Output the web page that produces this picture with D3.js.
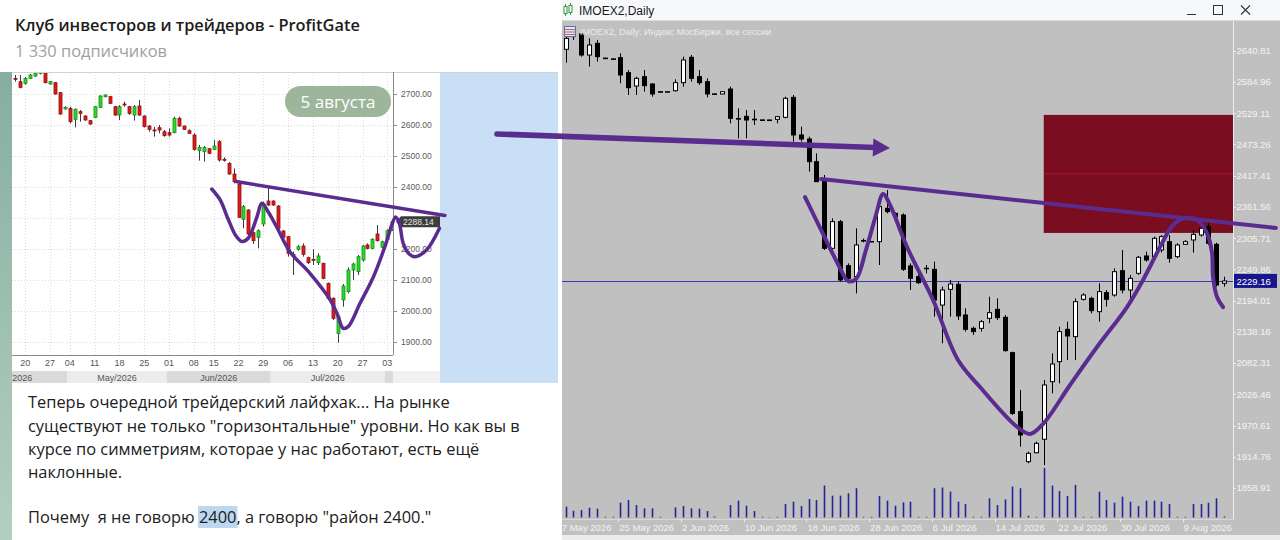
<!DOCTYPE html>
<html>
<head>
<meta charset="utf-8">
<script src="https://cdn.jsdelivr.net/npm/d3@7"></script>
<style>
  html, body { margin: 0; padding: 0; background: #ffffff; }
  svg { display: block; }
</style>
</head>
<body>
<svg id="chart" width="1280" height="540"></svg>
<script>
// ---------------- Data ----------------

// Telegram post (left side)
const channelTitle = "Клуб инвесторов и трейдеров - ProfitGate";
const channelSubs = "1 330 подписчиков";
const postDate = "5 августа";
const postLines = [
  "Теперь очередной трейдерский лайфхак... На рынке",
  "существуют не только \"горизонтальные\" уровни. Но как вы в",
  "курсе по симметриям, которае у нас работают, есть ещё",
  "наклонные."
];
const postLastLine = ["Почему  я не говорю ", "2400", ", а говорю \"район 2400.\""];

// Small daily chart in the post: [open, high, low, close], 16 Apr – 4 Aug 2026 (trading days)
const leftCandles = [
  [2750.5, 2761.3, 2739.8, 2750.0], [2739.8, 2761.3, 2718.3, 2721.5], [2734.4, 2755.0, 2730.0, 2750.5],
  [2750.5, 2765.0, 2748.0, 2761.3], [2758.0, 2770.0, 2755.0, 2766.6], [2766.0, 2776.0, 2763.0, 2772.0],
  [2772.0, 2777.0, 2734.4, 2736.5], [2732.3, 2742.0, 2730.0, 2739.8], [2736.5, 2738.0, 2698.0, 2700.0],
  [2704.3, 2706.0, 2633.0, 2635.5], [2651.7, 2660.0, 2650.0, 2657.1], [2653.7, 2659.1, 2605.4, 2610.7],
  [2618.3, 2653.7, 2592.4, 2650.5], [2643.0, 2648.4, 2610.7, 2637.6], [2629.0, 2631.0, 2614.0, 2616.1],
  [2614.0, 2616.0, 2601.0, 2603.2], [2624.7, 2661.0, 2622.0, 2659.1], [2657.0, 2696.0, 2655.0, 2693.5],
  [2691.4, 2699.0, 2689.0, 2696.8], [2691.4, 2694.0, 2668.0, 2669.9], [2659.1, 2661.0, 2630.0, 2632.2],
  [2632.2, 2664.5, 2616.1, 2659.1], [2667.7, 2675.3, 2659.1, 2667.2], [2659.1, 2661.3, 2632.2, 2637.6],
  [2632.2, 2664.5, 2614.0, 2659.1], [2661.3, 2680.6, 2629.0, 2632.2], [2629.0, 2631.0, 2592.0, 2594.6],
  [2596.7, 2600.0, 2578.5, 2586.0], [2584.0, 2594.6, 2562.3, 2583.8], [2591.4, 2600.0, 2573.1, 2583.8],
  [2578.5, 2583.8, 2562.3, 2565.6], [2575.3, 2589.2, 2562.3, 2567.7], [2575.3, 2626.8, 2573.1, 2621.5],
  [2621.5, 2626.8, 2594.6, 2596.7], [2596.7, 2598.0, 2584.0, 2586.0], [2581.7, 2586.0, 2571.0, 2573.1],
  [2567.7, 2573.1, 2517.2, 2521.5], [2517.2, 2535.5, 2484.9, 2527.9], [2513.9, 2532.2, 2481.7, 2527.9],
  [2523.6, 2525.0, 2506.0, 2508.6], [2521.5, 2551.6, 2519.3, 2532.2], [2546.2, 2551.6, 2481.7, 2487.1],
  [2489.3, 2495.7, 2481.7, 2489.0], [2476.3, 2480.0, 2440.0, 2441.9], [2441.9, 2460.2, 2411.8, 2417.2],
  [2409.7, 2412.0, 2300.0, 2302.1], [2295.7, 2341.9, 2266.7, 2336.6], [2325.8, 2328.0, 2245.2, 2248.4],
  [2252.7, 2255.9, 2216.1, 2226.9], [2237.6, 2263.4, 2202.1, 2259.1], [2280.7, 2352.7, 2272.1, 2347.3],
  [2354.8, 2401.1, 2338.7, 2341.9], [2354.8, 2357.0, 2339.0, 2341.9], [2338.7, 2341.9, 2261.3, 2266.7],
  [2258.0, 2261.3, 2234.4, 2237.6], [2239.8, 2241.9, 2175.3, 2186.0], [2182.8, 2191.4, 2116.1, 2182.6],
  [2198.9, 2212.9, 2194.6, 2207.5], [2209.7, 2218.3, 2175.3, 2182.8], [2172.0, 2175.3, 2151.6, 2155.9],
  [2166.7, 2198.9, 2148.4, 2166.5], [2155.9, 2186.0, 2148.4, 2177.4], [2153.8, 2155.9, 2102.2, 2105.4],
  [2089.2, 2091.4, 2035.5, 2040.9], [2040.9, 2044.1, 1971.0, 1976.3], [1927.9, 1987.1, 1897.8, 1981.7],
  [2035.5, 2087.1, 2014.0, 2080.6], [2062.4, 2140.9, 2057.0, 2132.3], [2132.3, 2155.9, 2100.0, 2151.6],
  [2126.9, 2180.6, 2116.1, 2175.3], [2164.5, 2212.9, 2159.1, 2209.7], [2212.9, 2218.3, 2199.0, 2202.1],
  [2202.1, 2234.4, 2199.0, 2231.2], [2248.4, 2277.4, 2223.7, 2226.9], [2205.4, 2226.9, 2202.1, 2223.7],
  [2231.2, 2263.4, 2226.9, 2259.1], [2262.0, 2292.0, 2258.0, 2288.14]
];
const leftLastPrice = 2288.14;
const leftPriceTicks = [1900, 2000, 2100, 2200, 2300, 2400, 2500, 2600, 2700];
// Monday labels, keyed by candle number
const leftDayTicks = [
  { bar: 2, label: "20" }, { bar: 7, label: "27" }, { bar: 11, label: "04" }, { bar: 16, label: "11" },
  { bar: 21, label: "18" }, { bar: 26, label: "25" }, { bar: 31, label: "01" }, { bar: 36, label: "08" },
  { bar: 40, label: "15" }, { bar: 45, label: "22" }, { bar: 50, label: "29" }, { bar: 55, label: "06" },
  { bar: 60, label: "13" }, { bar: 65, label: "20" }, { bar: 70, label: "27" }, { bar: 75, label: "03" }
];
const leftMonths = [
  { label: "Apr/2026", from: -11, to: 10.5 }, { label: "May/2026", from: 10.5, to: 30.5 },
  { label: "Jun/2026", from: 30.5, to: 51.5 }, { label: "Jul/2026", from: 51.5, to: 74.5 },
  { label: "", from: 74.5, to: 77.5 }
];
// Hand-drawn marks on the small chart: [candle, price]
const leftTrend = [[44.5, 2417.7], [86.6, 2308.1]];
const leftSwing = [
  [39.6, 2393.5], [41.3, 2358.1], [42.9, 2296.8], [44.5, 2241.9], [45.7, 2224.2], [47.0, 2235.5],
  [48.7, 2303.2], [49.7, 2347.4], [51.0, 2319.4], [52.7, 2271.0], [55.4, 2190.3], [59.4, 2121.6],
  [63.5, 2035.5], [64.9, 1990.3], [66.1, 1944.2], [67.1, 1949.4], [69.5, 2024.8], [72.2, 2110.6],
  [74.5, 2207.4], [75.9, 2277.4], [76.65, 2303.2], [77.4, 2283.9], [78.2, 2218.4], [79.4, 2183.9],
  [80.6, 2175.2], [82.9, 2196.8], [85.5, 2266.8]
];

// IMOEX2 daily (right side): [open, high, low, close]
const rightCandles = [
  [2643.3, 2668.9, 2619.4, 2662.9], [2666.0, 2675.0, 2660.0, 2669.0], [2670.7, 2671.9, 2630.1, 2633.1],
  [2633.1, 2662.9, 2612.3, 2651.0], [2654.0, 2659.9, 2621.2, 2630.1], [2627.6, 2628.2, 2626.8, 2627.2],
  [2626.2, 2626.8, 2625.5, 2626.0], [2628.4, 2636.1, 2582.5, 2597.4], [2601.5, 2606.3, 2561.6, 2574.7],
  [2577.7, 2594.4, 2561.6, 2591.4], [2594.4, 2606.3, 2567.6, 2578.3], [2581.3, 2582.5, 2558.6, 2563.4],
  [2567.6, 2568.0, 2567.0, 2567.4], [2567.4, 2568.0, 2567.0, 2567.6], [2569.3, 2589.6, 2567.6, 2583.7],
  [2583.7, 2630.1, 2576.5, 2624.2], [2629.0, 2633.1, 2585.4, 2591.4], [2594.4, 2606.3, 2579.5, 2583.7],
  [2585.4, 2591.4, 2557.4, 2563.4], [2563.6, 2564.0, 2563.0, 2563.4], [2563.4, 2568.0, 2563.0, 2567.6],
  [2572.3, 2576.5, 2510.9, 2519.9], [2519.5, 2537.8, 2484.1, 2519.3], [2523.5, 2534.8, 2484.1, 2516.9],
  [2518.3, 2534.8, 2508.0, 2518.1], [2517.1, 2517.5, 2516.7, 2516.9], [2516.9, 2517.3, 2516.5, 2517.0],
  [2518.1, 2524.1, 2510.9, 2522.9], [2521.7, 2558.6, 2519.9, 2555.6], [2557.4, 2561.6, 2478.2, 2490.1],
  [2490.1, 2505.0, 2478.2, 2482.9], [2482.9, 2487.1, 2424.5, 2442.4], [2442.4, 2457.3, 2406.0, 2406.6],
  [2409.6, 2418.6, 2284.5, 2287.5], [2287.5, 2341.1, 2284.5, 2335.1], [2335.1, 2338.1, 2227.8, 2230.8],
  [2256.5, 2260.6, 2224.9, 2233.8], [2236.8, 2323.2, 2207.0, 2293.4], [2301.2, 2305.0, 2298.0, 2301.5],
  [2299.4, 2300.2, 2298.8, 2299.7], [2299.4, 2373.9, 2257.6, 2362.0], [2359.0, 2391.7, 2350.0, 2353.0],
  [2350.0, 2352.0, 2343.0, 2344.1], [2347.0, 2350.0, 2247.0, 2250.0], [2255.9, 2260.6, 2213.0, 2233.8],
  [2236.8, 2242.8, 2223.7, 2226.0], [2251.7, 2257.7, 2242.8, 2251.9], [2249.9, 2263.6, 2165.3, 2195.0],
  [2186.0, 2218.9, 2117.6, 2212.9], [2214.1, 2230.8, 2165.3, 2223.7], [2223.1, 2227.9, 2159.3, 2166.5],
  [2168.3, 2180.2, 2138.5, 2142.6], [2144.4, 2147.4, 2132.5, 2138.5], [2144.4, 2159.3, 2138.5, 2156.3],
  [2162.3, 2201.0, 2153.4, 2172.4], [2178.4, 2198.0, 2159.3, 2163.5], [2164.1, 2168.3, 2102.7, 2104.5],
  [2100.9, 2102.7, 1989.5, 1992.4], [1995.4, 2034.2, 1932.8, 1953.7], [1906.0, 1923.9, 1903.0, 1920.9],
  [1922.0, 1941.8, 1920.9, 1938.8], [1946.0, 2052.0, 1900.0, 2043.1], [2049.0, 2099.7, 2028.2, 2080.6],
  [2084.8, 2147.4, 2046.0, 2138.5], [2142.6, 2156.3, 2087.8, 2130.7], [2129.5, 2198.0, 2087.8, 2192.1],
  [2196.3, 2207.0, 2194.0, 2204.0], [2198.0, 2201.0, 2171.2, 2176.0], [2174.2, 2224.9, 2156.3, 2210.0],
  [2208.2, 2212.9, 2183.2, 2196.3], [2204.0, 2251.7, 2201.0, 2245.7], [2247.5, 2284.5, 2207.0, 2213.0],
  [2213.0, 2239.8, 2198.0, 2233.8], [2242.8, 2273.8, 2239.8, 2271.4], [2273.8, 2281.5, 2263.6, 2266.6],
  [2272.6, 2308.3, 2269.6, 2305.3], [2284.5, 2311.3, 2280.0, 2308.3], [2299.4, 2311.3, 2261.8, 2269.6],
  [2272.6, 2296.4, 2269.6, 2293.4], [2294.6, 2302.4, 2293.4, 2299.4], [2302.4, 2320.2, 2279.7, 2312.5],
  [2311.3, 2329.2, 2308.3, 2323.2], [2326.2, 2332.2, 2293.4, 2296.4], [2294.6, 2297.6, 2218.9, 2221.9],
  [2224.9, 2236.8, 2218.9, 2229.16]
];
const rightVolumes = [
  32, 20, 22, 29, 26, 2, 2, 44, 52, 37, 27, 27, 2, 0, 30, 34, 27, 26, 19, 3,
  0, 37, 50, 35, 19, 2, 1, 2, 40, 47, 34, 55, 52, 95, 65, 65, 72, 87, 2, 2,
  64, 50, 35, 45, 47, 2, 2, 87, 89, 77, 47, 40, 2, 2, 57, 37, 54, 92, 87, 5,
  2, 147, 95, 79, 64, 97, 2, 2, 77, 52, 44, 62, 47, 34, 50, 50, 47, 40, 2, 2,
  40, 40, 44, 57, 3
];
const rightLastPrice = 2229.16;
const rightPriceTicks = [2640.81, 2584.96, 2529.11, 2473.26, 2417.41, 2361.56, 2305.71, 2249.86,
  2194.01, 2138.16, 2082.31, 2026.46, 1970.61, 1914.76, 1858.91];
const rightDateTicks = [
  { bar: 0, label: "17 May 2026" }, { bar: 8, label: "25 May 2026" }, { bar: 16, label: "2 Jun 2026" },
  { bar: 24, label: "10 Jun 2026" }, { bar: 32, label: "18 Jun 2026" }, { bar: 40, label: "28 Jun 2026" },
  { bar: 48, label: "6 Jul 2026" }, { bar: 56, label: "14 Jul 2026" }, { bar: 64, label: "22 Jul 2026" },
  { bar: 72, label: "30 Jul 2026" }, { bar: 80, label: "9 Aug 2026" }
];
const windowTitle = "IMOEX2,Daily";
const chartCaption = "IMOEX2, Daily:  Индекс МосБиржи, все сессии";
// Resistance zone box: from bar, price top / bottom
const zone = { fromBar: 61, top: 2526, bottom: 2315 };
// Hand-drawn marks on the terminal chart: [bar, price]
const rightTrend = [[32.6, 2411.4], [90.6, 2323.8]];
const rightSwing = [
  [30.55, 2379.2], [33.23, 2302.3], [35.01, 2252.3], [36.03, 2229.0], [37.05, 2232.6], [38.32, 2284.5],
  [39.6, 2347.0], [40.5, 2384.6], [41.39, 2364.9], [43.56, 2289.8], [46.88, 2195.1], [50.06, 2087.8],
  [52.87, 2039.5], [57.46, 1969.8], [59.25, 1955.5], [60.9, 1973.3], [64.35, 2043.1], [67.79, 2111.0],
  [71.62, 2182.5], [73.66, 2230.8], [75.83, 2289.8], [77.49, 2329.2], [79.02, 2341.7], [80.55, 2338.1],
  [81.82, 2314.8], [82.46, 2279.1], [82.59, 2236.2], [83.1, 2200.4], [83.86, 2182.5]
];
// Arrow from the post over to the terminal chart, in terminal-chart units
const bridgeArrow = [[-8.74, 2491.9], [41.39, 2466.8]];

// ---------------- Drawing ----------------
const svg = d3.select("#chart");
const defs = svg.append("defs");
const ink = "#5b2c8f";
const uiFont = "'Open Sans', 'Noto Sans', sans-serif";
const termFont = "'Liberation Sans', Arial, sans-serif";
const postSize = 16.4;

// ---- Left: post card ----
const left = svg.append("g");
left.append("rect").attr("x", 0).attr("y", 0).attr("width", 560).attr("height", 540).attr("fill", "#ffffff");

const strip = defs.append("linearGradient").attr("id", "strip").attr("x1", 0).attr("y1", 0).attr("x2", 0).attr("y2", 1);
strip.append("stop").attr("offset", "0%").attr("stop-color", "#86ae9f");
strip.append("stop").attr("offset", "100%").attr("stop-color", "#b3cfc1");

left.append("text").attr("x", 15).attr("y", 31).attr("font-family", uiFont).attr("font-size", postSize)
  .attr("font-weight", 600).attr("fill", "#1c1c1c").text(channelTitle);
left.append("text").attr("x", 15).attr("y", 57).attr("font-family", uiFont).attr("font-size", postSize)
  .attr("fill", "#a0a0a0").text(channelSubs);

// small chart scales
const xL = d3.scaleLinear().domain([0, 76]).range([15.3, 392.3]);
const yL = d3.scaleLinear().domain([1900, 2700]).range([342, 94]);
const plotL = { x0: 12, x1: 393, y0: 72, y1: 355 };

left.append("rect").attr("x", 12).attr("y", 72).attr("width", 428).attr("height", 311).attr("fill", "#ffffff");
left.append("rect").attr("x", 440).attr("y", 72).attr("width", 118).attr("height", 311).attr("fill", "#c8dff6");
left.append("line").attr("x1", 12).attr("x2", 558).attr("y1", 72.5).attr("y2", 72.5).attr("stroke", "#d2d2d2");

defs.append("clipPath").attr("id", "clipL").append("rect")
  .attr("x", plotL.x0).attr("y", plotL.y0 + 1).attr("width", plotL.x1 - plotL.x0).attr("height", plotL.y1 - plotL.y0 - 1);

const gridL = left.append("g").attr("clip-path", "url(#clipL)");
gridL.selectAll("line.h").data(leftPriceTicks).join("line")
  .attr("x1", plotL.x0).attr("x2", plotL.x1)
  .attr("y1", d => Math.round(yL(d)) + 0.5).attr("y2", d => Math.round(yL(d)) + 0.5)
  .attr("stroke", "#dcdcdc").attr("stroke-dasharray", "1,2");
gridL.selectAll("line.v").data(leftDayTicks).join("line")
  .attr("x1", d => Math.round(xL(d.bar)) + 0.5).attr("x2", d => Math.round(xL(d.bar)) + 0.5)
  .attr("y1", plotL.y0).attr("y2", plotL.y1)
  .attr("stroke", "#dcdcdc").attr("stroke-dasharray", "1,2");

// candles (small chart)
const cL = gridL.append("g").selectAll("g").data(leftCandles).join("g");
cL.append("line")
  .attr("x1", (d, i) => Math.round(xL(i)) + 0.5).attr("x2", (d, i) => Math.round(xL(i)) + 0.5)
  .attr("y1", d => yL(d[1])).attr("y2", d => yL(d[2]))
  .attr("stroke", "#3c3c3c").attr("stroke-width", 1);
cL.append("rect")
  .attr("x", (d, i) => Math.round(xL(i)) - 1)
  .attr("y", d => yL(Math.max(d[0], d[3])))
  .attr("width", 3)
  .attr("height", d => Math.max(1, Math.abs(yL(d[0]) - yL(d[3]))))
  .attr("fill", d => d[3] >= d[0] ? "#27dc27" : "#e01a1a")
  .attr("stroke", d => d[3] >= d[0] ? "#1c8a1c" : "#8e1111")
  .attr("stroke-width", 0.8);

// axes (small chart)
left.append("line").attr("x1", plotL.x1 + 0.5).attr("x2", plotL.x1 + 0.5).attr("y1", plotL.y0).attr("y2", plotL.y1)
  .attr("stroke", "#8a8a8a");
left.append("line").attr("x1", plotL.x0).attr("x2", plotL.x1).attr("y1", plotL.y1 + 0.5).attr("y2", plotL.y1 + 0.5)
  .attr("stroke", "#8a8a8a");
const lpY = yL(leftLastPrice);
// price labels, leaving out the one hidden under the last-price marker
const yAxL = left.append("g").selectAll("g")
  .data(leftPriceTicks.filter(d => Math.abs(yL(d) - lpY) > 8)).join("g");
yAxL.append("line").attr("x1", plotL.x1).attr("x2", plotL.x1 + 4)
  .attr("y1", d => Math.round(yL(d)) + 0.5).attr("y2", d => Math.round(yL(d)) + 0.5).attr("stroke", "#8a8a8a");
yAxL.append("text").attr("x", plotL.x1 + 8).attr("y", d => yL(d) + 3)
  .attr("font-family", termFont).attr("font-size", 8.5).attr("fill", "#5a5a5a")
  .text(d => d3.format(".2f")(d));

left.selectAll("text.day").data(leftDayTicks).join("text")
  .attr("x", d => xL(d.bar)).attr("y", 366).attr("text-anchor", "middle")
  .attr("font-family", termFont).attr("font-size", 9).attr("fill", "#555")
  .text(d => d.label);

defs.append("clipPath").attr("id", "clipMonths").append("rect")
  .attr("x", 12).attr("y", 371).attr("width", plotL.x1 - 12).attr("height", 12);
const months = left.append("g").attr("clip-path", "url(#clipMonths)");
months.selectAll("rect").data(leftMonths).join("rect")
  .attr("x", d => xL(d.from)).attr("width", d => xL(d.to) - xL(d.from))
  .attr("y", 371).attr("height", 12)
  .attr("fill", (d, i) => i % 2 === 0 ? "#dadada" : "#ececec");
months.selectAll("text").data(leftMonths).join("text")
  .attr("x", d => (xL(d.from) + xL(d.to)) / 2).attr("y", 380.5).attr("text-anchor", "middle")
  .attr("font-family", termFont).attr("font-size", 9).attr("fill", "#555")
  .text(d => d.label);
left.append("rect").attr("x", plotL.x1).attr("y", 371).attr("width", 440 - plotL.x1).attr("height", 12).attr("fill", "#f1f1f1");

// last-price marker (small chart)
left.append("path")
  .attr("d", `M${plotL.x1 + 3},${lpY} L${plotL.x1 + 8},${lpY - 5.5} L${plotL.x1 + 47},${lpY - 5.5} L${plotL.x1 + 47},${lpY + 5.5} L${plotL.x1 + 8},${lpY + 5.5} Z`)
  .attr("fill", "#3d3d3d");
left.append("text").attr("x", plotL.x1 + 10).attr("y", lpY + 3.2)
  .attr("font-family", termFont).attr("font-size", 8.5).attr("fill", "#e6e6e6")
  .text(d3.format(".2f")(leftLastPrice));

// date pill
left.append("rect").attr("x", 285).attr("y", 86).attr("width", 106).attr("height", 31).attr("rx", 15.5)
  .attr("fill", "#9db59a");
left.append("text").attr("x", 338).attr("y", 107.5).attr("text-anchor", "middle")
  .attr("font-family", uiFont).attr("font-size", 17).attr("fill", "#ffffff").text(postDate);

// hand-drawn marks (small chart)
const lineL = d3.line().x(d => xL(d[0])).y(d => yL(d[1]));
left.append("path").attr("d", lineL(leftTrend)).attr("fill", "none").attr("stroke", ink)
  .attr("stroke-width", 3.5).attr("stroke-linecap", "round");
left.append("path").attr("d", lineL.curve(d3.curveCatmullRom.alpha(0.5))(leftSwing)).attr("fill", "none")
  .attr("stroke", ink).attr("stroke-width", 3.5).attr("stroke-linecap", "round").attr("stroke-linejoin", "round");

// post text
left.append("rect").attr("x", 12).attr("y", 383).attr("width", 548).attr("height", 157).attr("fill", "#ffffff");
const lineYs = [408, 432, 455, 478];
left.selectAll("text.post").data(postLines).join("text")
  .attr("x", 28).attr("y", (d, i) => lineYs[i])
  .attr("font-family", uiFont).attr("font-size", postSize).attr("fill", "#202020")
  .text(d => d);
const lastLine = left.append("text").attr("x", 28).attr("y", 523)
  .attr("font-family", uiFont).attr("font-size", postSize).attr("fill", "#202020")
  .style("white-space", "pre");
const tsA = lastLine.append("tspan").text(postLastLine[0]);
const tsB = lastLine.append("tspan").text(postLastLine[1]);
lastLine.append("tspan").text(postLastLine[2]);
const hx = 28 + tsA.node().getComputedTextLength();
const hw = tsB.node().getComputedTextLength();
left.insert("rect", () => lastLine.node())
  .attr("x", hx - 1).attr("y", 506).attr("width", hw + 2).attr("height", 22).attr("fill", "#bcd8f1");

left.append("rect").attr("x", 0).attr("y", 72).attr("width", 12).attr("height", 468).attr("fill", "url(#strip)");

// ---- Right: trading terminal ----
defs.append("clipPath").attr("id", "clipRPanel").append("rect")
  .attr("x", 562).attr("y", 0).attr("width", 718).attr("height", 540);
const right = svg.append("g").attr("clip-path", "url(#clipRPanel)");

right.append("rect").attr("x", 562).attr("y", 0).attr("width", 718).attr("height", 21).attr("fill", "#f6f8fb");
right.append("line").attr("x1", 562).attr("x2", 1280).attr("y1", 20.5).attr("y2", 20.5).attr("stroke", "#d8dde4");
right.append("rect").attr("x", 562).attr("y", 21).attr("width", 718).attr("height", 514).attr("fill", "#c0c0c0");
right.append("rect").attr("x", 562).attr("y", 535).attr("width", 718).attr("height", 5).attr("fill", "#ececec");

// title bar
const icon = right.append("g");
icon.append("line").attr("x1", 565.5).attr("x2", 565.5).attr("y1", 4).attr("y2", 16).attr("stroke", "#2f9a3a");
icon.append("rect").attr("x", 564).attr("y", 6.5).attr("width", 3).attr("height", 7).attr("fill", "#ffffff").attr("stroke", "#2f9a3a");
icon.append("line").attr("x1", 570.5).attr("x2", 570.5).attr("y1", 3).attr("y2", 15).attr("stroke", "#2f9a3a");
icon.append("rect").attr("x", 569).attr("y", 5.5).attr("width", 3).attr("height", 7).attr("fill", "#ffffff").attr("stroke", "#2f9a3a");
right.append("text").attr("x", 579).attr("y", 14.5).attr("font-family", termFont).attr("font-size", 12)
  .attr("fill", "#1a1a1a").text(windowTitle);
right.append("line").attr("x1", 1187).attr("x2", 1196).attr("y1", 14.5).attr("y2", 14.5).attr("stroke", "#333");
right.append("rect").attr("x", 1213.5).attr("y", 5.5).attr("width", 9).attr("height", 9).attr("fill", "none").attr("stroke", "#333");
right.append("path").attr("d", "M1241,5.5 L1250,14.5 M1250,5.5 L1241,14.5").attr("stroke", "#333").attr("stroke-width", 1.1);

// scales
const xR = d3.scaleLinear().domain([0, 84]).range([565.5, 1224.1]);
const yR = d3.scaleLinear().domain([1858.91, 2640.81]).range([488, 50.7]);
const vR = d3.scaleLinear().domain([0, 147]).range([517.5, 468]);
const axisX = 1233;

defs.append("clipPath").attr("id", "clipRPlot").append("rect")
  .attr("x", 562).attr("y", 21).attr("width", axisX - 562).attr("height", 498);
const plotR = right.append("g").attr("clip-path", "url(#clipRPlot)");

// resistance zone
plotR.append("rect")
  .attr("x", xR(zone.fromBar)).attr("y", yR(zone.top))
  .attr("width", axisX - xR(zone.fromBar)).attr("height", yR(zone.bottom) - yR(zone.top))
  .attr("fill", "#7a0d1f");
plotR.append("line")
  .attr("x1", xR(zone.fromBar)).attr("x2", axisX)
  .attr("y1", yR((zone.top + zone.bottom) / 2)).attr("y2", yR((zone.top + zone.bottom) / 2))
  .attr("stroke", "#a11a33").attr("stroke-width", 1);

// last price line
plotR.append("line").attr("x1", 562).attr("x2", axisX)
  .attr("y1", Math.round(yR(rightLastPrice)) + 0.5).attr("y2", Math.round(yR(rightLastPrice)) + 0.5)
  .attr("stroke", "#3a38b4").attr("stroke-width", 1);

// volumes
plotR.append("g").selectAll("line").data(rightVolumes).join("line")
  .attr("x1", (d, i) => Math.round(xR(i)) + 0.5).attr("x2", (d, i) => Math.round(xR(i)) + 0.5)
  .attr("y1", vR(0)).attr("y2", d => vR(d))
  .attr("stroke", "#23239a").attr("stroke-width", 1.6);

// candles
const cR = plotR.append("g").selectAll("g").data(rightCandles).join("g");
cR.append("line")
  .attr("x1", (d, i) => Math.round(xR(i)) + 0.5).attr("x2", (d, i) => Math.round(xR(i)) + 0.5)
  .attr("y1", d => yR(d[1])).attr("y2", d => yR(d[2]))
  .attr("stroke", "#000").attr("stroke-width", 1);
cR.append("rect")
  .attr("x", (d, i) => Math.round(xR(i)) - 1.5)
  .attr("y", d => yR(Math.max(d[0], d[3])))
  .attr("width", 4)
  .attr("height", d => Math.max(0.6, Math.abs(yR(d[0]) - yR(d[3]))))
  .attr("fill", d => d[3] > d[0] ? "#ffffff" : "#000000")
  .attr("stroke", "#000").attr("stroke-width", 1);

// caption
const cap = right.append("g");
cap.append("rect").attr("x", 564.5).attr("y", 26.5).attr("width", 11).attr("height", 10).attr("fill", "#dfe6f3").attr("stroke", "#5574b8");
cap.append("path").attr("d", "M565,29.5 H575 M565,32 H575 M565,34.5 H575").attr("stroke", "#c33b3b").attr("stroke-width", 0.8);
right.append("text").attr("x", 580).attr("y", 35).attr("font-family", termFont).attr("font-size", 9)
  .attr("fill", "#ececec").text(chartCaption);

// price axis
right.append("line").attr("x1", axisX + 0.5).attr("x2", axisX + 0.5).attr("y1", 21).attr("y2", 519)
  .attr("stroke", "#ededed");
right.append("line").attr("x1", 562).attr("x2", axisX).attr("y1", 519.5).attr("y2", 519.5).attr("stroke", "#d6d6d6");
const yAxR = right.append("g").selectAll("g").data(rightPriceTicks).join("g");
yAxR.append("line").attr("x1", axisX).attr("x2", axisX + 3)
  .attr("y1", d => Math.round(yR(d)) + 0.5).attr("y2", d => Math.round(yR(d)) + 0.5).attr("stroke", "#ededed");
yAxR.append("text").attr("x", axisX + 3.5).attr("y", d => yR(d) + 3.4)
  .attr("font-family", termFont).attr("font-size", 9.5).attr("fill", "#f4f4f4")
  .text(d => d3.format(".2f")(d));
const lpR = yR(rightLastPrice);
right.append("rect").attr("x", axisX + 1).attr("y", lpR - 7).attr("width", 43).attr("height", 14).attr("fill", "#17168c");
right.append("text").attr("x", axisX + 3.5).attr("y", lpR + 3.6)
  .attr("font-family", termFont).attr("font-size", 9.5).attr("fill", "#ffffff")
  .text(d3.format(".2f")(rightLastPrice));

// date axis
const xAx = right.append("g").selectAll("g").data(rightDateTicks).join("g");
xAx.append("line").attr("x1", d => Math.round(xR(d.bar)) - 9.5).attr("x2", d => Math.round(xR(d.bar)) - 9.5)
  .attr("y1", 519).attr("y2", 522).attr("stroke", "#ededed");
xAx.append("text").attr("x", d => xR(d.bar) - 9).attr("y", 530.5)
  .attr("font-family", termFont).attr("font-size", 9.5).attr("fill", "#f4f4f4")
  .text(d => d.label);

// hand-drawn marks (terminal chart)
const lineR = d3.line().x(d => xR(d[0])).y(d => yR(d[1]));
svg.append("path").attr("d", lineR(rightTrend)).attr("fill", "none").attr("stroke", ink)
  .attr("stroke-width", 4).attr("stroke-linecap", "round");
svg.append("path").attr("d", lineR.curve(d3.curveCatmullRom.alpha(0.5))(rightSwing)).attr("fill", "none")
  .attr("stroke", ink).attr("stroke-width", 4).attr("stroke-linecap", "round").attr("stroke-linejoin", "round");

// arrow between the two screenshots
const a0 = [xR(bridgeArrow[0][0]), yR(bridgeArrow[0][1])];
const a1 = [xR(bridgeArrow[1][0]), yR(bridgeArrow[1][1])];
const ang = Math.atan2(a1[1] - a0[1], a1[0] - a0[0]);
const headLen = 17, headHalf = 9;
const base = [a1[0] - headLen * Math.cos(ang), a1[1] - headLen * Math.sin(ang)];
svg.append("line").attr("x1", a0[0]).attr("y1", a0[1]).attr("x2", base[0] + 2 * Math.cos(ang)).attr("y2", base[1] + 2 * Math.sin(ang))
  .attr("stroke", ink).attr("stroke-width", 5.5).attr("stroke-linecap", "round");
svg.append("path")
  .attr("d", `M${a1[0]},${a1[1]} L${base[0] - headHalf * Math.sin(ang)},${base[1] + headHalf * Math.cos(ang)} L${base[0] + headHalf * Math.sin(ang)},${base[1] - headHalf * Math.cos(ang)} Z`)
  .attr("fill", ink);
</script>
</body>
</html>
